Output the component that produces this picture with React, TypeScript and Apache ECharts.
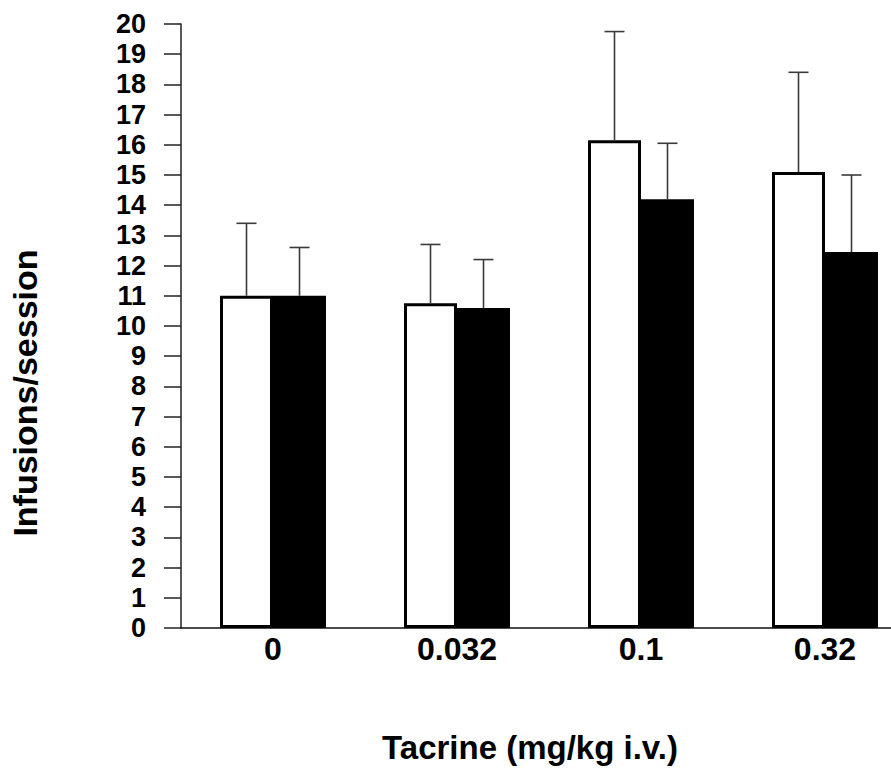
import React, { useEffect, useRef } from "react";
import * as echarts from "echarts";

const categories = ["0", "0.032", "0.1", "0.32"];
const whiteValues = [11.0, 10.75, 16.15, 15.1];
const blackValues = [11.0, 10.6, 14.2, 12.45];
const whiteSem = [2.4, 1.95, 3.6, 3.3];
const blackSem = [1.6, 1.6, 1.85, 2.55];
const yTicks = { min: 0, max: 20, interval: 1 };
const xTitle = "Tacrine (mg/kg i.v.)";
const yTitle = "Infusions/session";

const BAR_W = 53;
const FONT = "'Liberation Sans', Arial, sans-serif";

function errorSeries(values: number[], sem: number[], side: number) {
  return {
    type: "custom",
    z: 5,
    encode: { x: 0, y: 1 },
    data: values.map((v, i) => [i, v, sem[i]]),
    renderItem: (params: any, api: any) => {
      const idx = api.value(0);
      const v = api.value(1);
      const e = api.value(2);
      const base = api.coord([idx, v]);
      const top = api.coord([idx, v + e]);
      const x = base[0] + side * (BAR_W / 2);
      const st = { stroke: "#3a3a3a", lineWidth: 1.6 };
      return {
        type: "group",
        children: [
          { type: "line", shape: { x1: x, y1: base[1], x2: x, y2: top[1] }, style: st },
          { type: "line", shape: { x1: x - 10, y1: top[1], x2: x + 10, y2: top[1] }, style: st },
        ],
      };
    },
  };
}

export default function App() {
  const ref = useRef<HTMLDivElement>(null);
  useEffect(() => {
    if (!ref.current) return;
    const chart = echarts.init(ref.current, null, { renderer: "svg" });
    chart.setOption({
      animation: false,
      backgroundColor: "#ffffff",
      grid: {
        left: 181,
        top: 24,
        width: 736,
        height: 604,
        containLabel: false,
        outerBoundsMode: "none",
      },
      xAxis: {
        type: "category",
        data: categories,
        boundaryGap: true,
        axisLine: { show: true, lineStyle: { color: "#111", width: 1.5 } },
        axisTick: { show: false },
        axisLabel: {
          color: "#000",
          fontFamily: FONT,
          fontWeight: "bold",
          fontSize: 32,
          margin: 5,
        },
        name: xTitle,
        nameLocation: "middle",
        nameGap: 103,
        nameTextStyle: {
          color: "#000",
          fontFamily: FONT,
          fontWeight: "bold",
          fontSize: 33,
          padding: [0, 38, 0, 0],
        },
      },
      yAxis: {
        type: "value",
        min: yTicks.min,
        max: yTicks.max,
        interval: yTicks.interval,
        splitLine: { show: false },
        axisLine: { show: true, lineStyle: { color: "#222", width: 1.5 } },
        axisTick: { show: true, inside: false, length: 17, lineStyle: { color: "#222", width: 1.5 } },
        axisLabel: {
          color: "#000",
          fontFamily: FONT,
          fontWeight: "bold",
          fontSize: 27,
          margin: 35,
        },
        name: yTitle,
        nameLocation: "middle",
        nameGap: 139,
        nameRotate: 90,
        nameTextStyle: {
          color: "#000",
          fontFamily: FONT,
          fontWeight: "bold",
          fontSize: 34,
          padding: [0, 134, 0, 0],
        },
      },
      series: [
        {
          type: "bar",
          data: whiteValues,
          barWidth: BAR_W,
          barGap: "0%",
          itemStyle: { color: "#ffffff", borderColor: "#000", borderWidth: 3 },
        },
        {
          type: "bar",
          data: blackValues,
          barWidth: BAR_W,
          barGap: "0%",
          itemStyle: { color: "#000000" },
        },
        errorSeries(whiteValues, whiteSem, -1),
        errorSeries(blackValues, blackSem, 1),
      ],
    });
    return () => chart.dispose();
  }, []);
  return (
    <div
      style={{
        position: "absolute",
        left: 0,
        top: 0,
        width: 891,
        height: 769,
        overflow: "hidden",
        background: "#fff",
      }}
    >
      <div ref={ref} style={{ width: 940, height: 769 }} />
    </div>
  );
}
